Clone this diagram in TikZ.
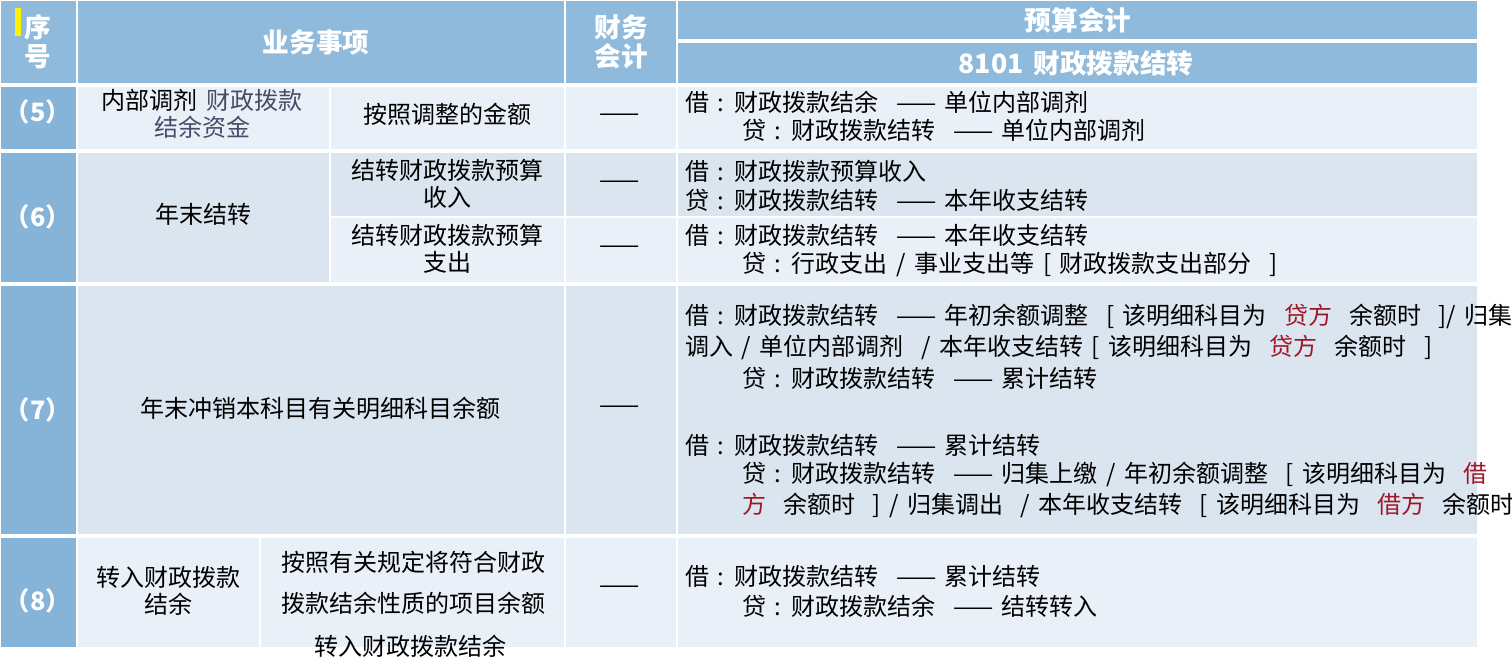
\documentclass[tikz,border=0pt]{standalone}
\usepackage{fontspec}
\setmainfont{Noto Sans CJK SC}[WordSpace=1.6]
\definecolor{hd}{HTML}{8FBADB}
\definecolor{sq}{HTML}{86B3D8}
\definecolor{la}{HTML}{EAF0F7}
\definecolor{lb}{HTML}{DAE5F0}
\definecolor{rd}{HTML}{A01828}
\definecolor{gy}{HTML}{4A4A68}
\begin{document}
\begin{tikzpicture}[x=0.75pt,y=-0.75pt,
  cell/.style={draw=white,line width=1.5pt},
  t/.style={font=\fontsize{18}{20.5}\selectfont,inner sep=0pt,text=black},
  tl/.style={t,anchor=west},
  n/.style={t,text=white,font=\fontsize{19}{22}\selectfont\bfseries},
  h/.style={font=\fontsize{20}{22}\selectfont\bfseries,text=white,inner sep=0pt,align=center}]
\useasboundingbox (0,0) rectangle (1512,670);
\clip (0,0) rectangle (1512,670);
% header
\path[cell,fill=hd] (0,0) rectangle (77,84);
\path[cell,fill=hd] (77,0) rectangle (565,84);
\path[cell,fill=hd] (565,0) rectangle (677,84);
\path[cell,fill=hd] (677,0) rectangle (1478,40);
\path[cell,fill=hd] (677,42) rectangle (1478,84);
\fill[yellow] (15,8) rectangle (21,36);
\node[h] (hx) at (38,42) {序\\号};
\node[h] (hy) at (316,42) {业务事项};
\node[h] (hc) at (621,42) {财务\\会计};
\node[h] (hb) at (1078,20) {预算会计};
\node[h] (hk) at (1076,63) {8101 财政拨款结转};
% row 5
\path[cell,fill=sq] (0,86) rectangle (77,150);
\path[cell,fill=la] (77,86) rectangle (330,150);
\path[cell,fill=la] (330,86) rectangle (565,150);
\path[cell,fill=la] (565,86) rectangle (677,150);
\path[cell,fill=la] (677,86) rectangle (1478,150);
\node[n] (n5) at (38,112) {（5）};
\node[t,align=center] (a5) at (202,114) {内部调剂 \textcolor{gy}{财政拨款}\\\textcolor{gy}{结余资金}};
\node[t] (b5) at (447,114) {按照调整的金额};
\node[t] (c5) at (620,118) {——};
\node[tl] (d5) at (685,102) {借 : 财政拨款结余 \ —— 单位内部调剂};
\node[tl] (e5) at (742,130) {贷 : 财政拨款结转 \ —— 单位内部调剂};
% row 6
\path[cell,fill=sq] (0,152) rectangle (77,283);
\path[cell,fill=lb] (77,152) rectangle (330,283);
\path[cell,fill=lb] (330,152) rectangle (565,217);
\path[cell,fill=lb] (565,152) rectangle (677,217);
\path[cell,fill=lb] (677,152) rectangle (1478,217);
\path[cell,fill=la] (330,217) rectangle (565,283);
\path[cell,fill=la] (565,217) rectangle (677,283);
\path[cell,fill=la] (677,217) rectangle (1478,283);
\node[n] (n6) at (38,217) {（6）};
\node[t] (a6) at (203,214) {年末结转};
\node[t,align=center] (b6) at (447,184) {结转财政拨款预算\\收入};
\node[t] (c6) at (620,185) {——};
\node[tl] (d6) at (685,171) {借 : 财政拨款预算收入};
\node[tl] (e6) at (685,200) {贷 : 财政拨款结转 \ —— 本年收支结转};
\node[t,align=center] (b6b) at (447,249) {结转财政拨款预算\\支出};
\node[t] (c6b) at (620,250) {——};
\node[tl] (d6b) at (685,235) {借 : 财政拨款结转 \ —— 本年收支结转};
\node[tl] (e6b) at (742,265) {贷 : 行政支出 / 事业支出等 [ 财政拨款支出部分 \ ]};
% row 7
\path[cell,fill=sq] (0,285) rectangle (77,535);
\path[cell,fill=lb] (77,285) rectangle (565,535);
\path[cell,fill=lb] (565,285) rectangle (677,535);
\path[cell,fill=lb] (677,285) rectangle (1478,535);
\node[n] (n7) at (38,410) {（7）};
\node[t] (a7) at (320,408) {年末冲销本科目有关明细科目余额};
\node[t] (c7) at (620,410) {——};
\node[tl] (d7) at (685,316) {借 : 财政拨款结转 \ —— 年初余额调整 \ [ 该明细科目为 \ \textcolor{rd}{贷方} \ 余额时 \ ]/ 归集};
\node[tl] (e7) at (685,347) {调入 / 单位内部调剂 \ / 本年收支结转 [ 该明细科目为 \ \textcolor{rd}{贷方} \ 余额时 \ ]};
\node[tl] (f7) at (742,378) {贷 : 财政拨款结转 \ —— 累计结转};
\node[tl] (g7) at (685,445) {借 : 财政拨款结转 \ —— 累计结转};
\node[tl] (h7) at (742,474) {贷 : 财政拨款结转 \ —— 归集上缴 / 年初余额调整 \ [ 该明细科目为 \ \textcolor{rd}{借}};
\node[tl] (i7) at (742,505) {\textcolor{rd}{方} \ 余额时 \ ] / 归集调出 \ / 本年收支结转 \ [ 该明细科目为 \ \textcolor{rd}{借方} \ 余额时 \ ]};
% row 8
\path[cell,fill=sq] (0,537) rectangle (77,648);
\path[cell,fill=la] (77,537) rectangle (260,648);
\path[cell,fill=la] (260,537) rectangle (565,648);
\path[cell,fill=la] (565,537) rectangle (677,648);
\path[cell,fill=la] (677,537) rectangle (1478,648);
\node[n] (n8) at (38,601) {（8）};
\node[t,align=center] (a8) at (168,591) {转入财政拨款\\结余};
\node[t] (b8) at (413,562) {按照有关规定将符合财政};
\node[t] (b8b) at (413,603) {拨款结余性质的项目余额};
\node[t] (b8c) at (410,646) {转入财政拨款结余};
\node[t] (c8) at (620,590) {——};
\node[tl] (d8) at (685,576) {借 : 财政拨款结转 \ —— 累计结转};
\node[tl] (e8) at (742,606) {贷 : 财政拨款结余 \ —— 结转转入};
\end{tikzpicture}
\end{document}
